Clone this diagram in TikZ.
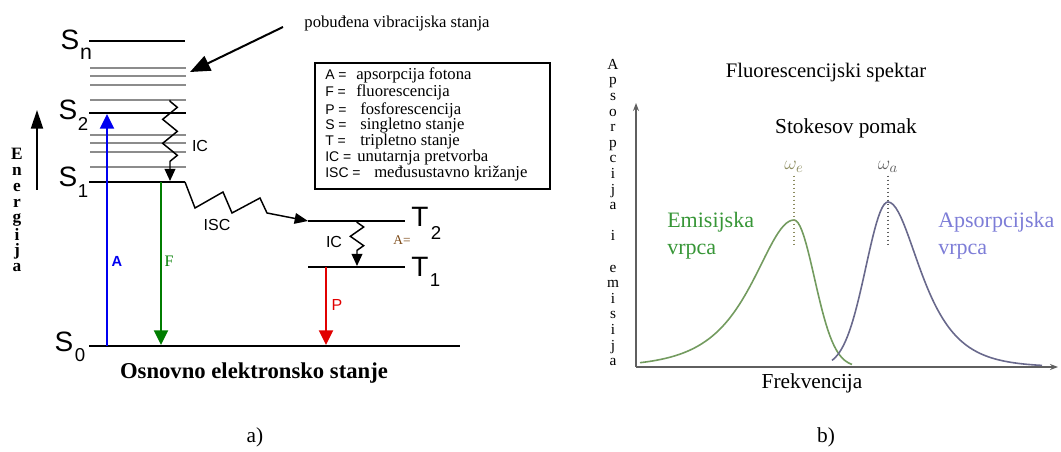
\documentclass[tikz,border=0pt]{standalone}
\usepackage{fontspec}
\setmainfont{Liberation Serif}
\setsansfont{Liberation Sans}
\usetikzlibrary{arrows.meta,decorations.pathmorphing,calc}
\definecolor{Ablue}{RGB}{0,0,240}
\definecolor{Fgreen}{RGB}{0,125,0}
\definecolor{Pred}{RGB}{225,0,0}
\definecolor{vibgray}{RGB}{140,140,140}
\definecolor{emcurve}{RGB}{115,155,95}
\definecolor{emtext}{RGB}{55,150,55}
\definecolor{abcurve}{RGB}{105,105,140}
\definecolor{abtext}{RGB}{125,125,215}
\definecolor{axgray}{RGB}{95,95,95}
\definecolor{omegae}{RGB}{140,140,95}
\definecolor{brownA}{RGB}{125,75,25}
\tikzset{
  level/.style={line width=1.5pt},
  vib/.style={line width=1.5pt,vibgray},
  big/.style={font=\sffamily\fontsize{21}{21}\selectfont,inner sep=0pt},
  sub/.style={font=\sffamily\fontsize{14}{14}\selectfont,inner sep=0pt},
  tlab/.style={font=\sffamily\fontsize{12}{12}\selectfont,inner sep=0pt},
  rad/.style={line width=1.5pt,-{Triangle[width=10.5pt,length=11pt]}},
  nonrad/.style={line width=1.1pt,-{Triangle[width=8pt,length=9pt]},
                 decorate,decoration={zigzag,amplitude=5.5pt,segment length=18pt,
                 pre length=1pt,post length=9pt}},
  key/.style={anchor=base west,inner sep=0pt,font=\sffamily\fontsize{10.5}{10.5}\selectfont},
  desc/.style={anchor=base west,inner sep=0pt,font=\fontsize{12.5}{12.5}\selectfont},
  ser/.style={inner sep=0pt,font=\fontsize{15.5}{15.5}\selectfont},
  axis/.style={line width=1.5pt,axgray,-{Stealth[length=6pt,width=4.5pt]}},
  peak/.style={line width=1pt,dotted,axgray},
}
\begin{document}
\begin{tikzpicture}[x=0.75pt,y=-0.75pt]
\useasboundingbox (0,0) rectangle (1061,452);

% ---- a) Jablonski dijagram
\foreach \yy in {68,76,85,100,135,143,152,167}
  \draw[vib] (90,\yy) -- (186,\yy);
\draw[level] (89,41) -- (185,41);
\draw[level] (89,113) -- (186,113);
\draw[level] (89,182) -- (185,182);
\draw[level] (89,346) -- (460,346);
\draw[level] (308,221) -- (405,221);
\draw[level] (308,267) -- (405,267);

\node[big] (sn) at (70,40) {S};
\node[sub,font=\sffamily\fontsize{16}{16}\selectfont] (snsub) at (86,54) {n};
\node[big] (s2) at (68,110) {S};
\node[sub] (s2sub) at (83,124) {2};
\node[big] (s1) at (68,177) {S};
\node[sub] (s1sub) at (83,191) {1};
\node[big] (s0) at (64,342) {S};
\node[sub] (s0sub) at (80,355) {0};
\node[big] (t2) at (420,217) {T};
\node[sub] (t2sub) at (436,233) {2};
\node[big] (t1) at (420,267) {T};
\node[sub] (t1sub) at (435,280) {1};

\coordinate (s0a) at (107,346); \coordinate (s2a) at (107,114);
\coordinate (s1f) at (161,182); \coordinate (s0f) at (161,345);
\coordinate (t1p) at (326,267); \coordinate (s0p) at (326,345);
\coordinate (ictop) at (170,100); \coordinate (s1ic) at (170,181);
\coordinate (t2ic) at (357,221); \coordinate (t1ic) at (357,266);
\coordinate (s1r) at (185,182); \coordinate (t2l) at (308,221);

\draw[rad,Ablue] (s0a) -- (s2a);
\draw[rad,Fgreen] (s1f) -- (s0f);
\draw[rad,Pred] (t1p) -- (s0p);
\draw[nonrad] (ictop) -- (s1ic);
\draw[nonrad,decoration={amplitude=5pt,segment length=14pt,post length=10pt}] (t2ic) -- (t1ic);
\draw[line width=1.1pt,-{Triangle[width=8pt,length=10pt]}]
  (s1r) -- (195,208) -- (223,192) -- (232,213) -- (260,198) -- (267,213) -- (t2l);

\node[inner sep=0pt,font=\sffamily\bfseries\fontsize{11}{11}\selectfont,text=Ablue] (la) at (117,261) {A};
\node[inner sep=0pt,font=\fontsize{12}{12}\selectfont,text=Fgreen] (lf) at (169,261) {F};
\node[tlab,text=Pred] (lp) at (337,305) {P};
\node[tlab] (ic1) at (200,146) {IC};
\node[tlab] (isc) at (217,225) {ISC};
\node[tlab] (ic2) at (334,242) {IC};
\node[inner sep=0pt,font=\fontsize{10}{10}\selectfont,text=brownA] (aeq) at (402,240) {A=};

% energija
\node[anchor=north,inner sep=0pt,align=center,font=\bfseries\fontsize{13}{11.85}\selectfont]
  (energ) at (17,148) {E\\n\\e\\r\\g\\i\\j\\a};
\coordinate (ebot) at (37,190); \coordinate (etop) at (37,110);
\draw[line width=1.5pt,-{Triangle[width=9pt,length=14pt]}] (ebot) -- (etop);

% pobudjena stanja
\node[anchor=base,inner sep=0pt,font=\fontsize{12.5}{12.5}\selectfont] (pob) at (397,28) {pobuđena vibracijska stanja};
\coordinate (pobarr) at (283,27); \coordinate (vibtip) at (190,72);
\draw[line width=1.5pt,-{Triangle[width=12pt,length=15pt]}] (pobarr) -- (vibtip);

% legenda
\draw[line width=2pt] (315,63) rectangle (550,189);
\foreach \k/\d/\yy/\xx in {A =/apsorpcija fotona/80/356, F =/fluorescencija/97/356,
    P =/fosforescencija/115/360, S =/singletno stanje/130/360, T =/tripletno stanje/146/360,
    IC =/unutarnja pretvorba/162/357, ISC =/međusustavno križanje/178/374}{
  \node[key] (k\yy) at (325,\yy) {\k};
  \node[desc] (d\yy) at (\xx,\yy) {\d};
}

\node[anchor=base,inner sep=0pt,font=\bfseries\fontsize{17}{17}\selectfont] (osn) at (254,379) {Osnovno elektronsko stanje};
\node[ser,font=\fontsize{16}{16}\selectfont] (capa) at (255,437) {a)};

% ---- b) spektar
\coordinate (org) at (636,367); \coordinate (ytop) at (636,103); \coordinate (xend) at (1058,367);
\draw[axis] (org) -- (ytop);
\draw[axis] (org) -- (xend);

\draw[line width=1.2pt,emcurve]
  plot[domain=640:794,samples=60] (\x,{367-147/cosh(1.317*(\x-794)/48)})
  -- plot[domain=794:852,samples=30] (\x,{367-147*exp(-0.693*((\x-794)/24)*((\x-794)/24))});
\draw[line width=1.2pt,abcurve]
  plot[domain=832:888,samples=30] (\x,{367-165*exp(-0.693*((\x-888)/26)*((\x-888)/26))})
  -- plot[domain=888:1042,samples=60] (\x,{367-165/cosh(1.317*(\x-888)/38)});

\node[inner sep=0pt,font=\fontsize{15}{15}\selectfont,text=omegae] (we) at (794,167) {$\omega_e$};
\node[inner sep=0pt,font=\fontsize{15}{15}\selectfont,text=axgray] (wa) at (888,167) {$\omega_a$};
\coordinate (wedn) at (794,246); \coordinate (wadn) at (888,246);
\draw[peak,omegae] ([yshift=-2pt]we.south) -- (wedn);
\draw[peak] ([yshift=-2pt]wa.south) -- (wadn);

\node[anchor=north,inner sep=0pt,align=center,font=\fontsize{11.5}{11.7}\selectfont]
  (yl) at (613,59) {A\\p\\s\\o\\r\\p\\c\\i\\j\\a\\~\\i\\~\\e\\m\\i\\s\\i\\j\\a};

\node[ser] (title) at (826,73) {Fluorescencijski spektar};
\node[ser,font=\fontsize{16}{16}\selectfont] (stokes) at (846,128) {Stokesov pomak};
\node[anchor=base west,inner sep=0pt,font=\fontsize{16.5}{16.5}\selectfont,text=emtext] (em1) at (667,228) {Emisijska};
\node[anchor=base west,inner sep=0pt,font=\fontsize{16.5}{16.5}\selectfont,text=emtext] (em2) at (667,255) {vrpca};
\node[anchor=base west,inner sep=0pt,font=\fontsize{16.5}{16.5}\selectfont,text=abtext] (ab1) at (938,228) {Apsorpcijska};
\node[anchor=base west,inner sep=0pt,font=\fontsize{16.5}{16.5}\selectfont,text=abtext] (ab2) at (938,255) {vrpca};
\node[ser,font=\fontsize{16}{16}\selectfont] (frek) at (812,383) {Frekvencija};
\node[ser,font=\fontsize{16}{16}\selectfont] (capb) at (826,437) {b)};
\end{tikzpicture}
\end{document}
